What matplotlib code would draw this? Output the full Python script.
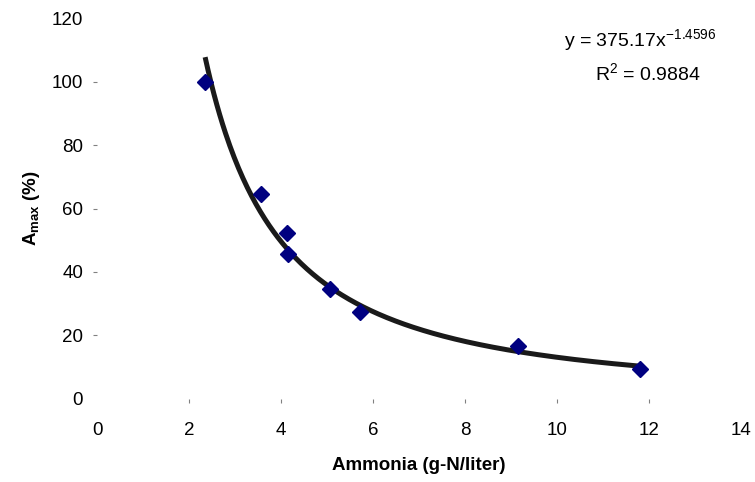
import numpy as np
import matplotlib
matplotlib.use('Agg')
import matplotlib.pyplot as plt

# Amax vs ammonia
ammonia = [2.35, 3.57, 4.12, 4.16, 5.07, 5.72, 9.16, 11.8]
amax = [100, 64.6, 52.4, 45.5, 34.6, 27.4, 16.6, 9.3]

# power trendline y = a * x^b
a = 375.17
b = -1.4596
r2 = 0.9884

xticks = [0, 2, 4, 6, 8, 10, 12, 14]
yticks = [0, 20, 40, 60, 80, 100, 120]

plt.rcParams['font.family'] = ['Liberation Sans', 'DejaVu Sans']
plt.rcParams['mathtext.fontset'] = 'custom'
plt.rcParams['mathtext.rm'] = 'Liberation Sans'
plt.rcParams['mathtext.it'] = 'Liberation Sans:italic'
plt.rcParams['mathtext.bf'] = 'Liberation Sans:bold'

fig = plt.figure(figsize=(7.55, 4.82), dpi=100)
ax = fig.add_axes([0.1285, 0.1732, 0.853, 0.7884])

xs = np.linspace(min(ammonia), max(ammonia), 300)
ax.plot(xs, a * xs ** b, color='#1a1a1a', lw=3.6, solid_capstyle='butt', zorder=2)
ax.plot(ammonia, amax, ls='none', marker='D', ms=8.3, color='#000080', zorder=3)

ax.set_xlim(0, 14)
ax.set_ylim(0, 120)
ax.set_xticks(xticks)
ax.set_yticks(yticks)
for s in ax.spines.values():
    s.set_visible(False)
ax.tick_params(axis='both', labelsize=13.5, color='#808080', length=3, width=0.8)
ax.tick_params(axis='x', pad=14)
ax.tick_params(axis='y', pad=7)
# no tick marks at the ends of the axes
for tl in [ax.xaxis.get_major_ticks()[0], ax.xaxis.get_major_ticks()[-1],
           ax.yaxis.get_major_ticks()[0], ax.yaxis.get_major_ticks()[-1]]:
    tl.tick1line.set_visible(False)

ax.set_xlabel('Ammonia (g-N/liter)', fontsize=13.5, fontweight='bold', labelpad=13)
ax.set_ylabel(r'A$_{\mathbf{max}}$ (%)', fontsize=13.5, fontweight='bold', labelpad=7)

ax.text(0.843, 0.943, r'y = 375.17x$^{-1.4596}$', transform=ax.transAxes,
        fontsize=14, ha='center', va='center')
ax.text(0.855, 0.857, r'R$^{2}$ = %.4f' % r2, transform=ax.transAxes,
        fontsize=14, ha='center', va='center')

fig.savefig('out.png', dpi=100)
